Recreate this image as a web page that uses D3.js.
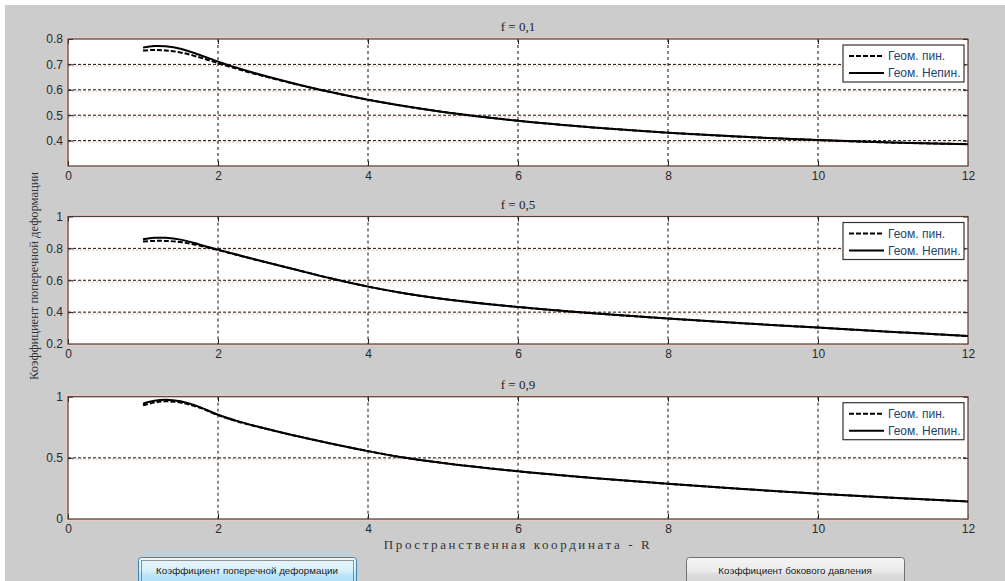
<!DOCTYPE html>
<html><head><meta charset="utf-8">
<script src="https://cdn.jsdelivr.net/npm/d3@7"></script>
<style>
body{margin:0;background:#fff;}
svg{display:block}
</style></head><body>
<svg id="c" width="1005" height="581"></svg>
<script>
// ---------- DATA ----------
const xValues = [1, 1.15, 1.3, 1.5, 1.75, 2, 2.25, 2.5, 3, 3.5, 4, 4.5, 5, 6, 7, 8, 9, 10, 11, 12];
const titles = ["f = 0,1", "f = 0,5", "f = 0,9"];
// f = 0,1
const lin1    = [0.755, 0.757, 0.755, 0.747, 0.728, 0.705, 0.683, 0.662, 0.625, 0.591, 0.561, 0.535, 0.513, 0.478, 0.452, 0.431, 0.415, 0.402, 0.392, 0.386];
const nonlin1 = [0.766, 0.772, 0.771, 0.762, 0.738, 0.711, 0.687, 0.665, 0.626, 0.591, 0.561, 0.535, 0.513, 0.478, 0.452, 0.431, 0.415, 0.402, 0.393, 0.386];
// f = 0,5
const lin2    = [0.843, 0.847, 0.847, 0.840, 0.818, 0.789, 0.759, 0.729, 0.671, 0.612, 0.560, 0.517, 0.483, 0.432, 0.393, 0.360, 0.330, 0.303, 0.276, 0.250];
const nonlin2 = [0.857, 0.866, 0.866, 0.855, 0.825, 0.792, 0.761, 0.730, 0.671, 0.612, 0.560, 0.517, 0.483, 0.432, 0.393, 0.360, 0.330, 0.303, 0.276, 0.250];
// f = 0,9
const lin3    = [0.930, 0.952, 0.962, 0.952, 0.912, 0.849, 0.799, 0.759, 0.685, 0.618, 0.555, 0.500, 0.458, 0.390, 0.335, 0.288, 0.245, 0.207, 0.173, 0.143];
const nonlin3 = [0.943, 0.966, 0.975, 0.962, 0.917, 0.852, 0.802, 0.760, 0.685, 0.618, 0.555, 0.500, 0.458, 0.390, 0.335, 0.288, 0.245, 0.207, 0.173, 0.143];

const yDomain1 = [0.3, 0.8], yDomain2 = [0.2, 1], yDomain3 = [0, 1];
const yTicks1 = [0.4, 0.5, 0.6, 0.7, 0.8];
const yTicks2 = [0.2, 0.4, 0.6, 0.8, 1];
const yTicks3 = [0, 0.5, 1];
const xTicks = [0, 2, 4, 6, 8, 10, 12];
const xDomain = [0, 12];
const legendLabels = ["Геом. пин.", "Геом. Непин."];
const xLabel = "Пространственная координата - R";
const yLabel = "Коэффициент поперечной деформации";
const buttonLabels = ["Коэффициент поперечной деформации", "Коэффициент бокового давления"];

// ---------- LAYOUT ----------
const W = 1005, H = 581;
const svg = d3.select("#c");
svg.append("rect").attr("x", 0).attr("y", 0).attr("width", W).attr("height", H).attr("fill", "#ffffff");
svg.append("rect").attr("x", 5).attr("y", 5).attr("width", W - 5).attr("height", H - 5).attr("fill", "#cccccc");

const defs = svg.append("defs");
const g1 = defs.append("linearGradient").attr("id", "btnBlue").attr("x1", 0).attr("y1", 0).attr("x2", 0).attr("y2", 1);
g1.append("stop").attr("offset", "0%").attr("stop-color", "#eaf6fd");
g1.append("stop").attr("offset", "45%").attr("stop-color", "#d9f0fc");
g1.append("stop").attr("offset", "55%").attr("stop-color", "#bee6fd");
g1.append("stop").attr("offset", "100%").attr("stop-color", "#a7d9f5");
const g2 = defs.append("linearGradient").attr("id", "btnGray").attr("x1", 0).attr("y1", 0).attr("x2", 0).attr("y2", 1);
g2.append("stop").attr("offset", "0%").attr("stop-color", "#f4f4f4");
g2.append("stop").attr("offset", "45%").attr("stop-color", "#ebebeb");
g2.append("stop").attr("offset", "55%").attr("stop-color", "#dddddd");
g2.append("stop").attr("offset", "100%").attr("stop-color", "#cfcfcf");

const xLeft = 68, xRight = 968;
const panels = [
  {top: 39,    bottom: 166, title: titles[0], lin: lin1, nonlin: nonlin1, dom: yDomain1, ticks: yTicks1},
  {top: 216.5, bottom: 344, title: titles[1], lin: lin2, nonlin: nonlin2, dom: yDomain2, ticks: yTicks2},
  {top: 396.7, bottom: 519, title: titles[2], lin: lin3, nonlin: nonlin3, dom: yDomain3, ticks: yTicks3}
];

const x = d3.scaleLinear().domain(xDomain).range([xLeft, xRight]);
const fmt = v => String(v);
const tickFont = "'Liberation Sans', Arial, sans-serif";

panels.forEach(p => {
  const y = d3.scaleLinear().domain(p.dom).range([p.bottom, p.top]);
  const g = svg.append("g");
  g.append("rect").attr("x", xLeft).attr("y", p.top).attr("width", xRight - xLeft).attr("height", p.bottom - p.top)
    .attr("fill", "#ffffff");

  const gx = xTicks.filter(t => t > xDomain[0] && t < xDomain[1]);
  const gy = p.ticks.filter(t => t > p.dom[0] && t < p.dom[1]);
  g.selectAll(".hh").data(gy).enter().append("line")
    .attr("x1", xLeft).attr("x2", xRight).attr("y1", d => y(d) + 1.5).attr("y2", d => y(d) + 1.5)
    .attr("stroke", "#f5d9cf").attr("stroke-width", 2).attr("stroke-dasharray", "2,2");
  g.selectAll(".gh").data(gy).enter().append("line")
    .attr("x1", xLeft).attr("x2", xRight).attr("y1", d => y(d)).attr("y2", d => y(d))
    .attr("stroke", "#111").attr("stroke-width", 1).attr("stroke-dasharray", "3,2");
  g.selectAll(".gv").data(gx).enter().append("line")
    .attr("x1", d => x(d)).attr("x2", d => x(d)).attr("y1", p.top).attr("y2", p.bottom)
    .attr("stroke", "#111").attr("stroke-width", 1).attr("stroke-dasharray", "3,3");

  const axB = g.append("g").attr("transform", `translate(0,${p.bottom})`)
    .call(d3.axisBottom(x).tickValues(xTicks).tickSize(-5).tickPadding(5).tickFormat(fmt));
  const axT = g.append("g").attr("transform", `translate(0,${p.top})`)
    .call(d3.axisTop(x).tickValues(xTicks).tickSize(-5).tickFormat(""));
  const axL = g.append("g").attr("transform", `translate(${xLeft},0)`)
    .call(d3.axisLeft(y).tickValues(p.ticks).tickSize(-5).tickPadding(5).tickFormat(fmt));
  const axR = g.append("g").attr("transform", `translate(${xRight},0)`)
    .call(d3.axisRight(y).tickValues(p.ticks).tickSize(-5).tickFormat(""));
  [axB, axT, axL, axR].forEach(a => {
    a.select(".domain").remove();
    a.selectAll(".tick line").attr("stroke", "#222");
    a.selectAll(".tick text").attr("fill", "#2a2a2a").style("font-family", tickFont).style("font-size", "12px");
  });

  g.append("rect").attr("x", xLeft - 1).attr("y", p.top - 1).attr("width", xRight - xLeft + 2).attr("height", p.bottom - p.top + 2)
    .attr("fill", "none").attr("stroke", "#f2c9b8").attr("stroke-width", 1.5);
  g.append("rect").attr("x", xLeft).attr("y", p.top).attr("width", xRight - xLeft).attr("height", p.bottom - p.top)
    .attr("fill", "none").attr("stroke", "#4a3f3a").attr("stroke-width", 1.2);

  const line = d3.line().x((d, i) => x(xValues[i])).y(d => y(d)).curve(d3.curveCatmullRom.alpha(0.5));
  g.append("path").attr("d", line(p.nonlin)).attr("fill", "none").attr("stroke", "#000").attr("stroke-width", 2);
  g.append("path").attr("d", line(p.lin)).attr("fill", "none").attr("stroke", "#000").attr("stroke-width", 2)
    .attr("stroke-dasharray", "5,2");

  svg.append("text").attr("x", (xLeft + xRight) / 2).attr("y", p.top - 8).attr("text-anchor", "middle")
    .style("font-family", "'Liberation Serif', 'Times New Roman', serif").style("font-size", "13px").attr("fill", "#222")
    .text(p.title);

  const lx = 843, ly = p.top + 6, lw = 121, lh = 37;
  const lg = g.append("g");
  lg.append("rect").attr("x", lx).attr("y", ly).attr("width", lw).attr("height", lh)
    .attr("fill", "#fff").attr("stroke", "#333").attr("stroke-width", 1.2);
  legendLabels.forEach((lab, i) => {
    const yy = ly + 11 + i * 17;
    lg.append("line").attr("x1", lx + 6).attr("x2", lx + 41).attr("y1", yy).attr("y2", yy)
      .attr("stroke", "#000").attr("stroke-width", 2).attr("stroke-dasharray", i === 0 ? "5,2" : null);
    lg.append("text").attr("x", lx + 45).attr("y", yy + 4).attr("fill", "#24426e")
      .style("font-family", tickFont).style("font-size", "12px").text(lab);
  });
});

svg.append("text").attr("x", 518).attr("y", 549).attr("text-anchor", "middle")
  .style("font-family", "'Liberation Serif', 'Times New Roman', serif").style("font-size", "13px")
  .style("letter-spacing", "2.6px").attr("fill", "#333").text(xLabel);
svg.append("text").attr("transform", "translate(38,276) rotate(-90)").attr("text-anchor", "middle")
  .style("font-family", "'Liberation Serif', 'Times New Roman', serif").style("font-size", "12.5px")
  .attr("fill", "#333").text(yLabel);

const btns = [
  {x: 138, w: 218, fill: "url(#btnBlue)", stroke: "#3c7fb1", focus: true, label: buttonLabels[0]},
  {x: 686, w: 218, fill: "url(#btnGray)", stroke: "#707070", focus: false, label: buttonLabels[1]}
];
btns.forEach(b => {
  svg.append("rect").attr("x", b.x + 0.5).attr("y", 557.5).attr("width", b.w).attr("height", 30).attr("rx", 3)
    .attr("fill", b.fill).attr("stroke", b.stroke);
  if (b.focus) {
    svg.append("rect").attr("x", b.x + 3.5).attr("y", 560.5).attr("width", b.w - 6).attr("height", 30)
      .attr("fill", "none").attr("stroke", "#333").attr("stroke-dasharray", "1,1");
  }
  svg.append("text").attr("x", b.x + b.w / 2).attr("y", 574).attr("text-anchor", "middle")
    .style("font-family", tickFont).style("font-size", "9.8px").attr("fill", "#1a1a1a").text(b.label);
});
</script>
</body></html>
